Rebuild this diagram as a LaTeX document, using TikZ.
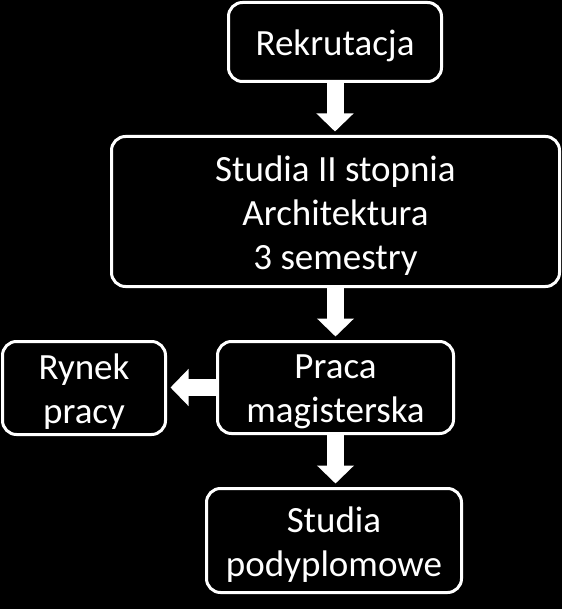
\documentclass[tikz,border=0pt]{standalone}
\usepackage{fontspec}
\setmainfont{Carlito}
\usetikzlibrary{arrows.meta}
\begin{document}
\begin{tikzpicture}[x=1pt,y=-1pt,
  box/.style={draw=white, fill=black, line width=3pt, rounded corners=14pt,
    inner sep=0pt},
  txt/.style={text=white, align=center, inner sep=0pt, yshift=-4pt,
    font=\fontsize{37}{44}\selectfont},
  blk/.style={draw=white, line width=17pt, shorten <=-1pt, shorten >=3.5pt,
    -{Triangle[width=36pt,length=18pt]}}]
\fill[black] (0,0) rectangle (562,609);
\useasboundingbox (0,0) rectangle (562,609);
\node[box, minimum width=213pt, minimum height=79pt,
  label={[txt]center:Rekrutacja}] (rek) at (335,42) {};
\node[box, minimum width=448pt, minimum height=150pt,
  label={[txt]center:Studia II stopnia\\Architektura\\3 semestry}] (stu) at (335.5,211.5) {};
\node[box, minimum width=236pt, minimum height=92pt,
  label={[txt]center:Praca\\magisterska}] (pra) at (335.5,387.5) {};
\node[box, minimum width=163pt, minimum height=93pt,
  label={[txt]center:Rynek\\pracy}] (ryn) at (84,388) {};
\node[box, minimum width=255pt, minimum height=104pt,
  label={[txt]center:Studia\\podyplomowe}] (pod) at (334,540.5) {};
\draw[blk] (rek.south) -- (rek.south |- stu.north);
\draw[blk] (stu.south) -- (stu.south |- pra.north);
\draw[blk] (pra.west) -- (pra.west -| ryn.east);
\draw[blk] (pra.south) -- (pra.south |- pod.north);
\end{tikzpicture}
\end{document}
